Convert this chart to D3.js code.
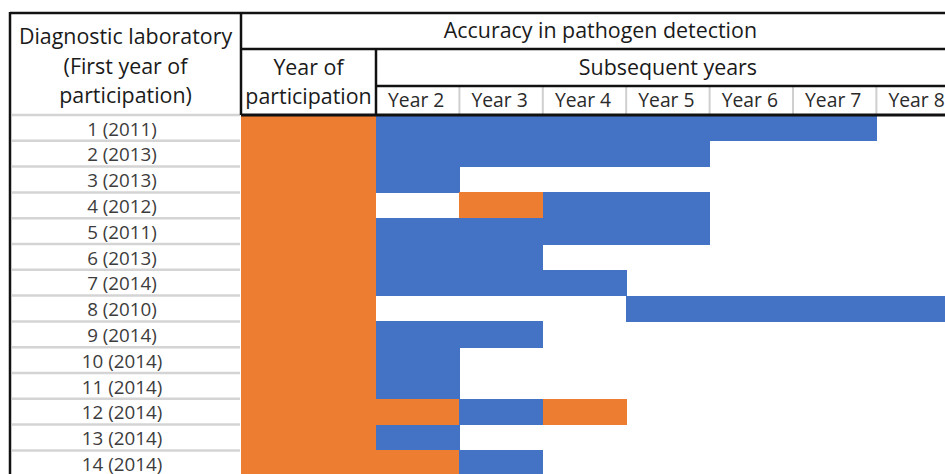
<!DOCTYPE html>
<html>
<head>
<meta charset="utf-8">
<script src="https://cdn.jsdelivr.net/npm/d3@7"></script>
<style>
  body { margin: 0; background: #fff; }
  svg { display: block; font-family: "Open Sans", sans-serif; }
</style>
</head>
<body>
<svg id="chart"></svg>
<script>
const width = 945, height = 474;

// labs and their first year
const labs = ["1 (2011)", "2 (2013)", "3 (2013)", "4 (2012)", "5 (2011)", "6 (2013)", "7 (2014)",
  "8 (2010)", "9 (2014)", "10 (2014)", "11 (2014)", "12 (2014)", "13 (2014)", "14 (2014)"];

const yearLabels = ["Year 2", "Year 3", "Year 4", "Year 5", "Year 6", "Year 7", "Year 8"];

// result for year 2..8 : "B" blue, "O" orange, "" nothing
const results = [
  ["B", "B", "B", "B", "B", "B", ""],
  ["B", "B", "B", "B", "", "", ""],
  ["B", "", "", "", "", "", ""],
  ["", "O", "B", "B", "", "", ""],
  ["B", "B", "B", "B", "", "", ""],
  ["B", "B", "", "", "", "", ""],
  ["B", "B", "B", "", "", "", ""],
  ["", "", "", "B", "B", "B", "B"],
  ["B", "B", "", "", "", "", ""],
  ["B", "", "", "", "", "", ""],
  ["B", "", "", "", "", "", ""],
  ["O", "B", "O", "", "", "", ""],
  ["B", "", "", "", "", "", ""],
  ["O", "B", "", "", "", "", ""]
];

const colors = { B: "#4472C4", O: "#ED7D31" };

const svg = d3.select("#chart").attr("width", width).attr("height", height);

const left = 10, labEnd = 241, partEnd = 376, colW = 83.4;
const topY = 13, row1 = 49, row2 = 86, bodyTop = 115, rowH = 25.8;
const tableRight = partEnd + yearLabels.length * colW;

const y = d3.scaleBand()
  .domain(labs)
  .range([bodyTop, bodyTop + labs.length * rowH])
  .padding(0);

const x = d3.scaleBand()
  .domain(yearLabels)
  .range([partEnd, tableRight])
  .padding(0);

// year of participation column (always orange)
svg.append("rect")
  .attr("x", labEnd).attr("y", bodyTop)
  .attr("width", partEnd - labEnd).attr("height", labs.length * rowH)
  .attr("fill", colors.O)
  .attr("shape-rendering", "crispEdges");

// cells
const cells = [];
results.forEach((r, i) => r.forEach((v, j) => { if (v) cells.push({ lab: labs[i], year: yearLabels[j], v: v }); }));

svg.append("g").selectAll("rect")
  .data(cells)
  .join("rect")
  .attr("x", d => x(d.year))
  .attr("y", d => y(d.lab))
  .attr("width", x.bandwidth() + 0.6)
  .attr("height", y.bandwidth() + 0.6)
  .attr("fill", d => colors[d.v])
  .attr("shape-rendering", "crispEdges");

// row separators in label column
svg.append("g").selectAll("line")
  .data(labs)
  .join("line")
  .attr("x1", left + 2).attr("x2", labEnd - 1)
  .attr("y1", d => y(d)).attr("y2", d => y(d))
  .attr("stroke", "#d4d4d4").attr("stroke-width", 2.5);

// row labels
svg.append("g").selectAll("text")
  .data(labs)
  .join("text")
  .attr("x", 122)
  .attr("y", d => y(d) + 20.5)
  .attr("text-anchor", "middle")
  .attr("font-size", 18.8)
  .attr("fill", "#3c3c3c")
  .text(d => d);

// grey separators between year headers
svg.append("g").selectAll("line")
  .data(yearLabels.slice(1))
  .join("line")
  .attr("x1", d => x(d)).attr("x2", d => x(d))
  .attr("y1", row2 + 1).attr("y2", bodyTop)
  .attr("stroke", "#cfcfcf").attr("stroke-width", 2);

// year header texts
svg.append("g").selectAll("text")
  .data(yearLabels)
  .join("text")
  .attr("x", d => x(d) + x.bandwidth() / 2 - 1.5)
  .attr("y", 107)
  .attr("text-anchor", "middle")
  .attr("font-size", 19.3)
  .attr("fill", "#2a2a2a")
  .text(d => d);

// black borders
const borders = [
  [left, topY, width, topY, 2.5],
  [left, topY - 1, left, height, 2.5],
  [labEnd, topY, labEnd, bodyTop, 2.5],
  [labEnd, row1, width, row1, 2.5],
  [partEnd, row1, partEnd, bodyTop, 2.5],
  [partEnd, row2, width, row2, 2.5],
  [labEnd, bodyTop, width, bodyTop, 3]
];
svg.append("g").selectAll("line")
  .data(borders)
  .join("line")
  .attr("x1", d => d[0]).attr("y1", d => d[1])
  .attr("x2", d => d[2]).attr("y2", d => d[3])
  .attr("stroke", "#111").attr("stroke-width", d => d[4]);

// header texts (the two wide cells are centred on the table's right edge, past the crop)
const heads = [
  ["Diagnostic laboratory", (left + labEnd) / 2, 44],
  ["(First year of", (left + labEnd) / 2, 74],
  ["participation)", (left + labEnd) / 2, 103],
  ["Accuracy in pathogen detection", (labEnd + tableRight) / 2, 38],
  ["Subsequent years", (partEnd + tableRight) / 2, 75],
  ["Year of", (labEnd + partEnd) / 2, 75],
  ["participation", (labEnd + partEnd) / 2, 104]
];
svg.append("g").selectAll("text")
  .data(heads)
  .join("text")
  .attr("x", d => d[1]).attr("y", d => d[2])
  .attr("text-anchor", "middle")
  .attr("font-size", 21.4)
  .attr("fill", "#1a1a1a")
  .text(d => d[0]);
</script>
</body>
</html>
